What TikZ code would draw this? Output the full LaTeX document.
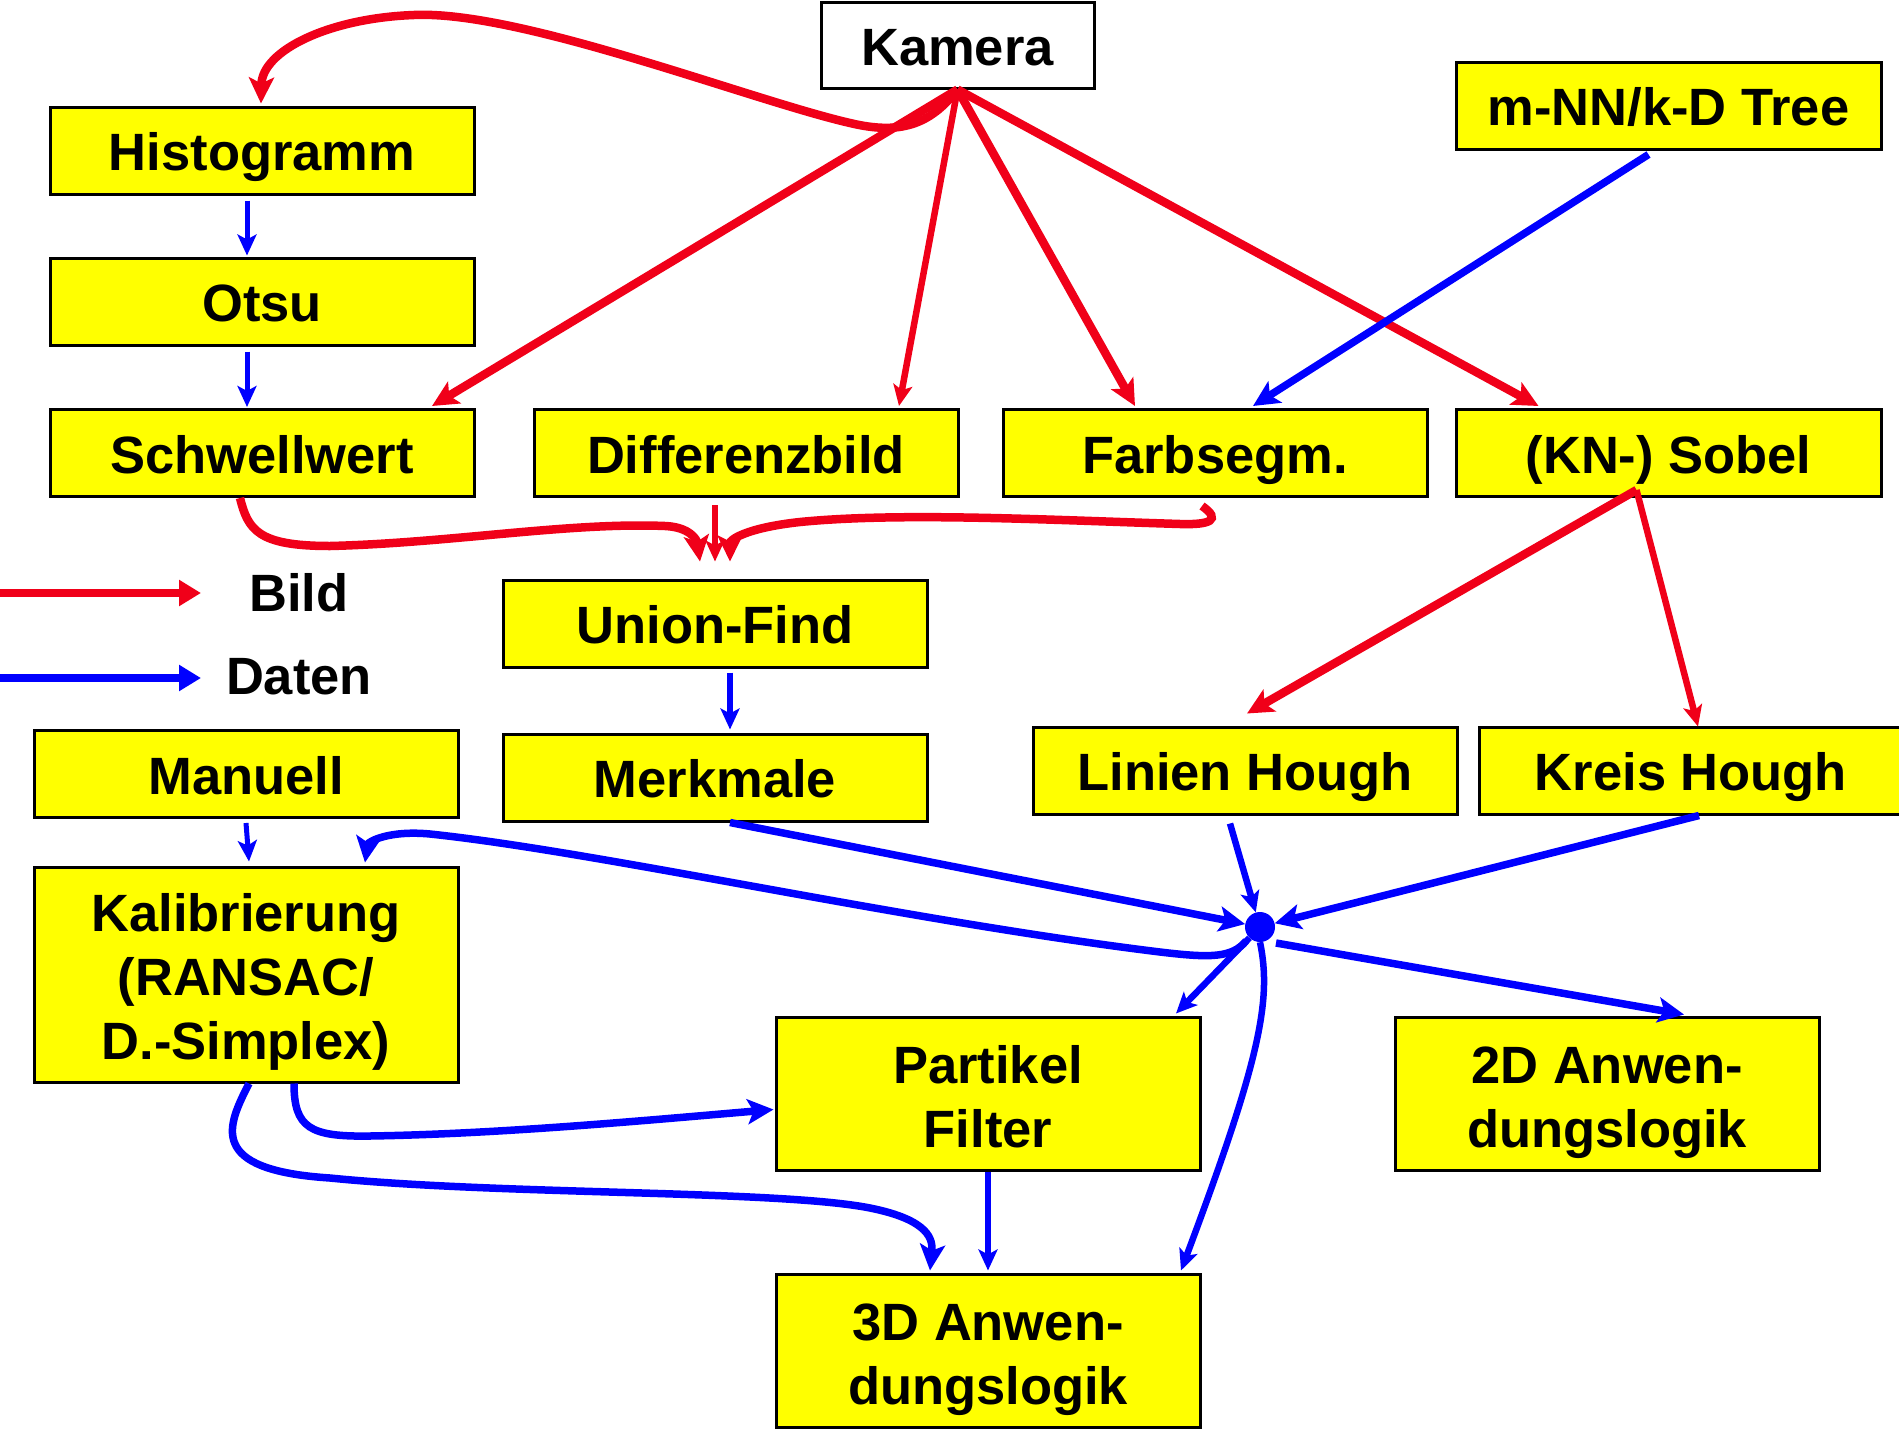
\documentclass[tikz,border=0pt]{standalone}
\usepackage{fontspec}
\setmainfont{Liberation Sans}
\usetikzlibrary{arrows.meta,calc}
\definecolor{bred}{RGB}{240,0,25}
\definecolor{bblue}{RGB}{0,0,255}
\definecolor{byellow}{RGB}{255,255,0}
\newcommand{\topstrut}[1]{\rule{0pt}{#1}}
\newcommand{\botstrut}{\rule[-12pt]{0pt}{12pt}}
\tikzset{
  box/.style={draw=black, line width=3pt, fill=byellow, inner sep=0pt, align=center,
    minimum width=424pt, minimum height=87pt,
    font=\fontsize{52.5}{64}\selectfont\bfseries},
  onebox/.style={box, text height=40pt, text depth=0pt},
  lbl/.style={inner sep=0pt, font=\fontsize{52.5}{64}\selectfont\bfseries},
  tipbig/.style={-{Stealth[length=26pt,width=25pt,inset=6pt]}},
  tipsmall/.style={-{Stealth[length=21pt,width=19pt,inset=5pt]}},
  bildthick/.style={draw=bred, line width=8.5pt, tipbig},
  bildthin/.style={draw=bred, line width=6.5pt, tipsmall},
  datthick/.style={draw=bblue, line width=7.5pt, tipbig},
  datmid/.style={draw=bblue, line width=6.5pt, tipsmall},
  datthin/.style={draw=bblue, line width=5pt, tipsmall},
}
\begin{document}
\begin{tikzpicture}[x=1pt,y=-1pt]
\useasboundingbox (0,0) rectangle (1899,1432);
\fill[white] (0,0) rectangle (1899,1432);

% boxes
\node[onebox, fill=white, minimum width=273pt, minimum height=86pt] (kam) at (957.5,45) {Kamera};
\node[onebox, minimum width=425pt] (mnn) at (1668.5,105.5) {m-NN/k-D Tree};
\node[onebox] (hist) at (262,150.5) {Histogramm};
\node[onebox] (otsu) at (262,301.5) {Otsu};
\node[onebox] (schw) at (262,453) {Schwellwert};
\node[onebox] (diff) at (746,453) {Differenzbild};
\node[onebox] (farb) at (1215,453) {Farbsegm.};
\node[onebox, minimum width=425pt] (sob) at (1668.5,453) {(KN-) Sobel};
\node[onebox] (uf) at (715,623.5) {Union-Find};
\node[onebox] (merk) at (715,777.5) {Merkmale};
\node[onebox] (man) at (246,774) {Manuell};
\node[onebox] (lin) at (1245,770.5) {Linien Hough};
\node[onebox] (kreis) at (1691,770.5) {Kreis Hough};
\node[box, minimum height=215pt] (kal) at (246,974.5) {\topstrut{53pt}Kalibrierung\\(RANSAC/\\D.-Simplex)\botstrut};
\node[box, minimum height=153pt] (part) at (988,1093.5) {\topstrut{56pt}Partikel\\Filter\botstrut};
\node[box, minimum height=153pt] (zwei) at (1607,1093.5) {\topstrut{56pt}2D Anwen-\\dungslogik\botstrut};
\node[box, minimum height=153pt] (drei) at (988,1350.5) {\topstrut{56pt}3D Anwen-\\dungslogik\botstrut};
\node[circle, fill=bblue, inner sep=0pt, minimum size=30pt] (dot) at (1260,927) {};

% legend
\coordinate (lr0) at (0,593);
\coordinate (lr1) at (201,593);
\coordinate (lb0) at (0,678);
\coordinate (lb1) at (201,678);
\node[lbl] (bildlbl) at (299,593) {Bild};
\node[lbl] (datlbl) at (299,677) {Daten};
\draw[draw=bred, line width=8pt, -{Triangle[length=22pt,width=25pt]}] (lr0) -- (lr1);
\draw[draw=bblue, line width=8pt, -{Triangle[length=22pt,width=25pt]}] (lb0) -- (lb1);

% red (Bild) connectors
\draw[bildthick] (kam.south) -- ($(schw.north)+(170,-2)$);
\draw[bildthin] (kam.south) -- ($(diff.north)+(153,-2)$);
\draw[bildthick] (kam.south) -- ($(farb.north)+(-80,-2)$);
\draw[bildthick] (kam.south) -- ($(sob.north)+(-130,-2)$);
\draw[bildthick] (kam.south) .. controls (930,125) and (900,135) .. (850,123)
   .. controls (750,100) and (520,10) .. (414,15)
   .. controls (330,18) and (262,50) .. ($(hist.north)+(-1,-2)$);
\draw[bildthick] ($(schw.south)+(-22,0)$) .. controls (248,530) and (258,546) .. (330,546)
   .. controls (450,543) and (570,522) .. (665,526)
   .. controls (690,527) and (697,540) .. ($(uf.north)+(-15,-17)$);
\draw[bildthin] ($(diff.south)+(-31,7)$) -- ($(uf.north)+(0,-17)$);
\draw[bildthick] ($(farb.south)+(-13,8)$) .. controls (1222,520) and (1210,525) .. (1180,524)
   .. controls (1050,520) and (900,512) .. (800,522)
   .. controls (745,528) and (730,540) .. ($(uf.north)+(15,-17)$);
\draw[bildthick] ($(sob.south)+(-32,-8)$) -- ($(lin.north)+(2,-12)$);
\draw[bildthin] ($(sob.south)+(-32,-8)$) -- ($(kreis.north)+(7,1)$);

% blue (Daten) connectors
\draw[datthick] ($(mnn.south)+(-20,4)$) -- ($(farb.north)+(38,-2)$);
\draw[datthin] ($(hist.south)+(-15,5)$) -- ($(otsu.north)+(-15,-1)$);
\draw[datthin] ($(otsu.south)+(-15,5)$) -- ($(schw.north)+(-15,-1)$);
\draw[datmid] ($(uf.south)+(15,4)$) -- ($(merk.north)+(15,-3)$);
\draw[datthin] ($(man.south)+(0,4)$) -- ($(kal.north)+(3,-4)$);
\draw[datthick] ($(merk.south)+(15,0)$) -- (dot);
\draw[datmid] ($(lin.south)+(-15,8)$) -- (dot);
\draw[datthick] ($(kreis.south)+(8,0)$) -- (dot);
\draw[datthick] ($(dot.center)+(-14,14)$) .. controls (1232,958) and (1210,958) .. (1160,952)
   .. controls (900,920) and (600,852) .. (430,834)
   .. controls (388,830) and (368,842) .. ($(kal.north)+(119,-3)$);
\draw[datmid] (dot) -- ($(part.north)+(188,-2)$);
\draw[datthick] ($(dot.center)+(16,16)$) -- ($(zwei.north)+(77,-1)$);
\draw[datmid] (dot.south) .. controls (1272,1000) and (1260,1060) .. ($(drei.north)+(193,-2)$);
\draw[datthick] ($(kal.south)+(48,0)$) .. controls (294,1128) and (310,1137) .. (370,1136)
   .. controls (500,1134) and (650,1120) .. ($(part.west)+(-1,16)$);
\draw[datthick] ($(kal.south)+(3,0)$) .. controls (228,1125) and (205,1170) .. (330,1178)
   .. controls (500,1195) and (780,1190) .. (870,1208)
   .. controls (930,1220) and (933,1240) .. ($(drei.north)+(-58,-2)$);
\draw[datmid] (part.south) -- ($(drei.north)+(0,-2)$);
\end{tikzpicture}
\end{document}
